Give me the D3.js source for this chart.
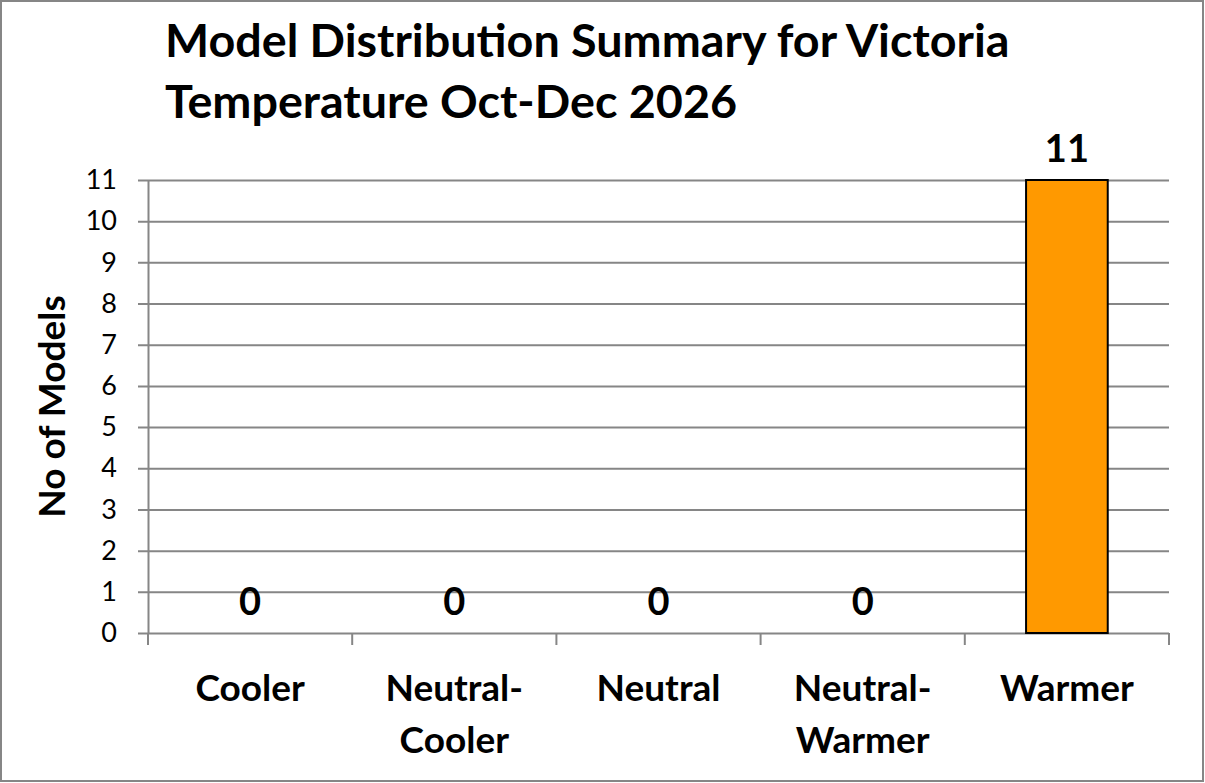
<!DOCTYPE html>
<html>
<head>
<meta charset="utf-8">
<script src="https://cdn.jsdelivr.net/npm/d3@7"></script>
<style>
  body { margin: 0; background: #fff; }
  svg text { font-family: Lato, "Open Sans", sans-serif; }
</style>
</head>
<body>
<svg id="chart" width="1205" height="783"></svg>
<script>
// chart data
var categories = [["Cooler"], ["Neutral-", "Cooler"], ["Neutral"], ["Neutral-", "Warmer"], ["Warmer"]];
var modelCounts = [0, 0, 0, 0, 11];
var yTicks = [0, 1, 2, 3, 4, 5, 6, 7, 8, 9, 10, 11];
var titleLines = ["Model Distribution Summary for Victoria", "Temperature Oct-Dec 2026"];

var svg = d3.select("#chart");
var plotLeft = 148, plotRight = 1169, plotTop = 180, plotBottom = 633;
var gridColor = "#868686";

// outer frame
svg.append("rect")
    .attr("x", 1).attr("y", 1)
    .attr("width", 1202).attr("height", 780)
    .attr("fill", "#fff")
    .attr("stroke", gridColor)
    .attr("stroke-width", 2);

var x = d3.scaleBand()
    .domain(d3.range(categories.length))
    .range([plotLeft, plotRight])
    .paddingInner(0.6)
    .paddingOuter(0.3);

var xTickScale = d3.scaleLinear().domain([0, categories.length]).range([plotLeft, plotRight]);

var y = d3.scaleLinear().domain([0, 11]).range([plotBottom, plotTop]);

// gridlines + y ticks
var yAxis = svg.append("g")
    .attr("transform", "translate(" + plotLeft + ",0)")
    .call(d3.axisLeft(y).tickValues(yTicks).tickSize(10).tickPadding(21).tickSizeOuter(0));
yAxis.select(".domain").attr("stroke", gridColor).attr("stroke-width", 2);
yAxis.selectAll(".tick line")
    .attr("x1", -10).attr("x2", plotRight - plotLeft)
    .attr("stroke", gridColor).attr("stroke-width", 2);
yAxis.selectAll(".tick text")
    .attr("font-size", 27)
    .attr("font-family", "Lato, sans-serif")
    .attr("fill", "#000");

// category ticks
svg.append("g").selectAll("line")
    .data(d3.range(categories.length + 1))
    .enter()
    .append("line")
    .attr("x1", function(d) { return xTickScale(d); })
    .attr("x2", function(d) { return xTickScale(d); })
    .attr("y1", plotBottom)
    .attr("y2", plotBottom + 12)
    .attr("stroke", gridColor)
    .attr("stroke-width", 2);

// bars
svg.append("g").selectAll("rect")
    .data(modelCounts)
    .enter()
    .append("rect")
    .attr("x", function(d, i) { return x(i); })
    .attr("y", function(d) { return y(d); })
    .attr("width", x.bandwidth())
    .attr("height", function(d) { return plotBottom - y(d); })
    .attr("fill", "#FF9900")
    .attr("stroke", "#000")
    .attr("stroke-width", 2)
    .style("display", function(d) { return d > 0 ? null : "none"; });

// value labels
svg.append("g").selectAll("text")
    .data(modelCounts)
    .enter()
    .append("text")
    .attr("x", function(d, i) { return x(i) + x.bandwidth() / 2; })
    .attr("y", function(d) { return y(d) - 18; })
    .attr("text-anchor", "middle")
    .attr("font-size", 38)
    .attr("font-weight", "bold")
    .text(function(d) { return d; });

// category labels
var catLabels = svg.append("g").selectAll("text")
    .data(categories)
    .enter()
    .append("text")
    .attr("text-anchor", "middle")
    .attr("font-size", 37)
    .attr("font-weight", "bold")
    .attr("x", function(d, i) { return x(i) + x.bandwidth() / 2; })
    .attr("y", 701);
catLabels.selectAll("tspan")
    .data(function(d) { return d; })
    .enter()
    .append("tspan")
    .attr("x", function() { return d3.select(this.parentNode).attr("x"); })
    .attr("dy", function(d, i) { return i === 0 ? 0 : 52; })
    .text(function(d) { return d; });

// y axis title
svg.append("text")
    .attr("transform", "translate(65," + (plotTop + plotBottom) / 2 + ") rotate(-90)")
    .attr("text-anchor", "middle")
    .attr("font-size", 37)
    .attr("font-weight", "bold")
    .text("No of Models");

// chart title
svg.append("g").selectAll("text")
    .data(titleLines)
    .enter()
    .append("text")
    .attr("x", 165)
    .attr("y", function(d, i) { return 57 + i * 61; })
    .attr("font-size", 46.7)
    .attr("font-weight", "bold")
    .text(function(d) { return d; });
</script>
</body>
</html>
